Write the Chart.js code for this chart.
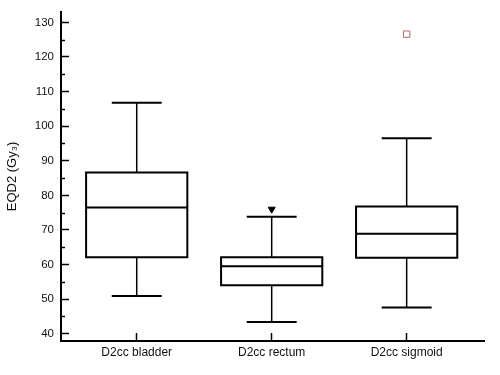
<!DOCTYPE html>
<html>
<head>
<meta charset="utf-8">
<script src="https://cdn.jsdelivr.net/npm/chart.js@4"></script>
<style>
  html, body { margin: 0; padding: 0; background: #fff; }
  #wrap { width: 500px; height: 375px; }
</style>
</head>
<body>
<div id="wrap"><canvas id="boxChart" width="500" height="375"></canvas></div>
<script>
// box plot values
const categories = ['D2cc bladder', 'D2cc rectum', 'D2cc sigmoid'];
const whiskerLow = [50.9, 43.4, 47.6];
const q1 = [62.1, 54.0, 62.0];
const medians = [76.5, 59.5, 68.9];
const q3 = [86.6, 62.1, 76.8];
const whiskerHigh = [106.8, 73.8, 96.5];
const rectumOutliers = [76.0];
const sigmoidOutliers = [126.6];

const yTicks = [40, 50, 60, 70, 80, 90, 100, 110, 120, 130];
const yMinorTicks = [45, 55, 65, 75, 85, 95, 105, 115, 125];

const BOX_HALF = 0.375;
const CAP_HALF = 0.185;
const FONT = "'Liberation Sans', Arial, sans-serif";

// helpers: build polylines with null gaps between pieces
const gap = x => ({ x, y: null });

const boxPoints = [];
const medianPoints = [];
const stemPoints = [];
const capPoints = [];
categories.forEach((c, i) => {
  const x = i + 1;
  boxPoints.push(
    { x: x - BOX_HALF, y: q1[i] }, { x: x + BOX_HALF, y: q1[i] },
    { x: x + BOX_HALF, y: q3[i] }, { x: x - BOX_HALF, y: q3[i] },
    { x: x - BOX_HALF, y: q1[i] }, gap(x)
  );
  medianPoints.push({ x: x - BOX_HALF, y: medians[i] }, { x: x + BOX_HALF, y: medians[i] }, gap(x));
  stemPoints.push({ x, y: q3[i] }, { x, y: whiskerHigh[i] }, gap(x));
  stemPoints.push({ x, y: q1[i] }, { x, y: whiskerLow[i] }, gap(x));
  capPoints.push({ x: x - CAP_HALF, y: whiskerHigh[i] }, { x: x + CAP_HALF, y: whiskerHigh[i] }, gap(x));
  capPoints.push({ x: x - CAP_HALF, y: whiskerLow[i] }, { x: x + CAP_HALF, y: whiskerLow[i] }, gap(x));
});

const lineSet = (data, width, extra) => Object.assign({
  data,
  showLine: true,
  spanGaps: false,
  borderColor: '#000',
  borderWidth: width,
  pointRadius: 0,
  fill: false
}, extra || {});

// short inward minor ticks on the y axis
const minorTicks = {
  id: 'minorTicks',
  afterDraw(chart) {
    const y = chart.scales.y;
    const ctx = chart.ctx;
    const left = chart.chartArea.left;
    ctx.save();
    ctx.strokeStyle = '#000';
    ctx.lineWidth = 1.5;
    yMinorTicks.forEach(v => {
      const py = Math.round(y.getPixelForValue(v)) + 0.5;
      ctx.beginPath();
      ctx.moveTo(left, py);
      ctx.lineTo(left + 4, py);
      ctx.stroke();
    });
    ctx.restore();
  }
};

new Chart(document.getElementById('boxChart'), {
  type: 'scatter',
  data: {
    datasets: [
      lineSet(boxPoints, 2, { borderJoinStyle: 'miter', borderCapStyle: 'square' }),
      lineSet(medianPoints, 2),
      lineSet(stemPoints, 1.5),
      lineSet(capPoints, 2),
      {
        data: rectumOutliers.map(v => ({ x: 2, y: v })),
        pointStyle: 'triangle',
        rotation: 180,
        pointRadius: 4,
        backgroundColor: '#000',
        borderColor: '#000',
        borderWidth: 1
      },
      {
        data: sigmoidOutliers.map(v => ({ x: 3, y: v })),
        pointStyle: 'rect',
        pointRadius: 4.5,
        backgroundColor: '#fff',
        borderColor: '#b06a6a',
        borderWidth: 1
      }
    ]
  },
  options: {
    responsive: false,
    animation: false,
    layout: { padding: { top: 12, right: 16, left: 0, bottom: 0 } },
    plugins: {
      legend: { display: false },
      tooltip: { enabled: false }
    },
    scales: {
      x: {
        type: 'linear',
        min: 0.439,
        max: 3.573,
        afterBuildTicks: scale => { scale.ticks = categories.map((c, i) => ({ value: i + 1 })); },
        afterFit: scale => { scale.height = 34; scale.paddingLeft = 0; scale.paddingRight = 0; },
        border: { display: true, color: '#000', width: 2 },
        grid: { drawOnChartArea: false, drawTicks: true, tickLength: -8, tickColor: '#000', tickWidth: 1.5 },
        ticks: {
          color: '#111',
          padding: 12,
          maxRotation: 0,
          font: { family: FONT, size: 12 },
          callback: v => categories[v - 1]
        }
      },
      y: {
        min: 37.9,
        max: 133,
        afterBuildTicks: scale => { scale.ticks = yTicks.map(v => ({ value: v })); },
        afterFit: scale => { scale.width = 61; scale.paddingTop = 0; scale.paddingBottom = 0; },
        border: { display: true, color: '#000', width: 2 },
        grid: { drawOnChartArea: false, drawTicks: true, tickLength: -8, tickColor: '#000', tickWidth: 1.5 },
        ticks: {
          color: '#111',
          padding: 15,
          font: { family: FONT, size: 11.5 }
        },
        title: {
          display: true,
          text: 'EQD2 (Gy₃)',
          color: '#111',
          padding: { top: 5, bottom: 0 },
          font: { family: FONT, size: 13 }
        }
      }
    }
  },
  plugins: [minorTicks]
});
</script>
</body>
</html>
